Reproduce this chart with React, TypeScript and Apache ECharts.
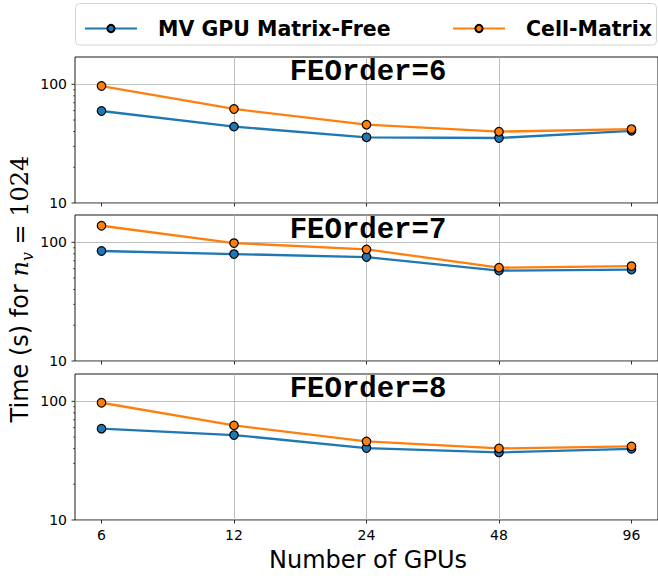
import React, { useEffect, useRef } from "react";
import * as echarts from "echarts";

const gpus = [6, 12, 24, 48, 96];
const panelTitles = ["FEOrder=6", "FEOrder=7", "FEOrder=8"];
const seriesNames = ["MV GPU Matrix-Free", "Cell-Matrix"];
const matrixFree6 = [59.6, 44.0, 35.8, 35.3, 40.6];
const cellMatrix6 = [96.8, 62.0, 45.7, 39.9, 42.0];
const matrixFree7 = [84.5, 79.7, 75.2, 57.8, 58.9];
const cellMatrix7 = [138, 98.6, 87.3, 61.2, 63.1];
const matrixFree8 = [58.8, 52.0, 40.4, 37.1, 39.8];
const cellMatrix8 = [97.3, 62.7, 45.9, 40.1, 41.7];
const yTickLabels = [10, 100];
const yTicksAll = [10, 20, 30, 40, 50, 60, 70, 80, 90, 100];

const panelData = [
  [matrixFree6, cellMatrix6],
  [matrixFree7, cellMatrix7],
  [matrixFree8, cellMatrix8],
];
const colors = ["#1f77b4", "#ff7f0e"];
const gridTops = [57, 215, 374];
const gridH = 146;
const gridLeft = 75;
const gridW = 587;

export default function App() {
  const ref = useRef<HTMLDivElement>(null);
  useEffect(() => {
    document.body.style.margin = "0";
    const chart = echarts.init(ref.current!, null, { renderer: "svg" });
    const idx = gpus.map((_, i) => i);
    const grids = gridTops.map((t) => ({
      left: gridLeft,
      top: t,
      width: gridW,
      height: gridH,
      show: true,
      borderColor: "#000",
      borderWidth: 0.9,
      backgroundColor: "transparent",
    }));
    const xAxes = gridTops.map((_, g) => ({
      gridIndex: g,
      type: "value",
      min: -0.2,
      max: 4.2,
      axisLine: { show: false },
      axisTick: {
        show: true,
        customValues: idx,
        length: 3.5,
        lineStyle: { color: "#000", width: 0.8 },
      },
      axisLabel: {
        show: g === 2,
        customValues: idx,
        formatter: (v: number) => {
          const i = Math.round(v);
          return Math.abs(v - i) < 1e-6 && gpus[i] != null ? String(gpus[i]) : "";
        },
        fontSize: 14,
        color: "#000",
        margin: 8,
        fontFamily: "DejaVu Sans",
      },
      splitLine: {
        show: true,
        showMinLine: false,
        showMaxLine: false,
        lineStyle: { color: "#b0b0b0", width: 0.8 },
      },
    }));
    const yAxes = gridTops.map((_, g) => ({
      gridIndex: g,
      type: "log",
      logBase: 10,
      min: 10,
      max: 170,
      axisLine: { show: false },
      axisTick: { show: false },
      axisLabel: {
        formatter: (v: number) => {
          const r = Math.round(v);
          return yTickLabels.includes(r) && Math.abs(v - r) < 1e-6 * r ? String(r) : "";
        },
        fontSize: 14,
        color: "#000",
        margin: 8,
        fontFamily: "DejaVu Sans",
      },
      splitLine: {
        show: true,
        showMaxLine: false,
        lineStyle: { color: "#b0b0b0", width: 0.8 },
      },
    }));
    const series: any[] = [];
    panelData.forEach((pair, g) => {
      pair.forEach((vals, s) => {
        series.push({
          type: "line",
          name: seriesNames[s],
          xAxisIndex: g,
          yAxisIndex: g,
          data: vals.map((v, i) => [i, v]),
          symbol: "circle",
          symbolSize: 8.5,
          lineStyle: { color: colors[s], width: 2.3 },
          itemStyle: { color: colors[s], borderColor: "#000", borderWidth: 1.2 },
          z: 3 + s,
        });
      });
      series.push({
        type: "custom",
        name: "yticks" + g,
        xAxisIndex: g,
        yAxisIndex: g,
        silent: true,
        clip: false,
        data: yTicksAll.map((v) => [0, v]),
        renderItem: (params: any, api: any) => {
          const v = api.value(1);
          const p = api.coord([0, v]);
          const x0 = params.coordSys.x;
          const major = yTickLabels.includes(Math.round(v));
          const len = major ? 3.5 : 2;
          return {
            type: "line",
            shape: { x1: x0 - len, y1: p[1], x2: x0, y2: p[1] },
            style: { stroke: "#000", lineWidth: major ? 0.8 : 0.6 },
          };
        },
      });
    });

    const graphic: any[] = [
      {
        type: "rect",
        z: 0,
        shape: { x: 75.5, y: 3.5, width: 581, height: 41.5, r: 4 },
        style: { fill: "#fff", stroke: "#d4d4d4", lineWidth: 1 },
      },
      {
        type: "text",
        x: 368,
        y: 560,
        style: {
          text: "Number of GPUs",
          font: "24px 'DejaVu Sans'",
          fill: "#000",
          align: "center",
          verticalAlign: "middle",
        },
      },
      {
        type: "text",
        x: 20,
        y: 289,
        rotation: Math.PI / 2,
        style: {
          text: "{a|Time (s) for }{n|n}{v|v}{b| = 1024}",
          align: "center",
          verticalAlign: "middle",
          fill: "#000",
          rich: {
            a: { fontSize: 24, fontFamily: "DejaVu Sans", lineHeight: 30, verticalAlign: "middle" },
            n: { fontSize: 24, fontFamily: "DejaVu Serif", fontStyle: "italic", lineHeight: 30 },
            v: { fontSize: 16, fontFamily: "DejaVu Serif", fontStyle: "italic", lineHeight: 16, verticalAlign: "bottom" },
            b: { fontSize: 24, fontFamily: "DejaVu Serif", lineHeight: 30 },
          },
        },
      },
    ];
    panelTitles.forEach((t, g) => {
      graphic.push({
        type: "text",
        x: 368,
        y: gridTops[g] + 15,
        z: 10,
        style: {
          text: t,
          font: "bold 29px 'Liberation Mono'",
          fill: "#000",
          align: "center",
          verticalAlign: "middle",
        },
      });
    });

    const legendCommon = {
      top: 18,
      padding: 0,
      itemWidth: 52,
      itemHeight: 9,
      z: 10,
      textStyle: {
        fontSize: 20.5,
        fontWeight: "bold",
        fontFamily: "DejaVu Sans",
        color: "#000",
        padding: [0, 0, 0, 16],
      },
    };

    chart.setOption({
      animation: false,
      textStyle: { fontFamily: "DejaVu Sans" },
      grid: grids,
      xAxis: xAxes,
      yAxis: yAxes,
      legend: [
        { ...legendCommon, left: 84, data: [seriesNames[0]] },
        { ...legendCommon, left: 452, data: [seriesNames[1]] },
      ],
      graphic,
      series,
    });
    return () => chart.dispose();
  }, []);
  return <div ref={ref} style={{ width: 658, height: 576 }} />;
}
